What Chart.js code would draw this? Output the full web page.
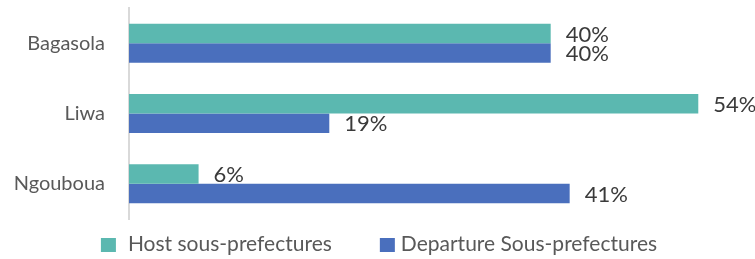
<!DOCTYPE html>
<html>
<head>
<meta charset="utf-8">
<script src="https://cdn.jsdelivr.net/npm/chart.js@4"></script>
<style>
  html, body { margin: 0; padding: 0; background: #ffffff; }
  #wrap { width: 755px; height: 259px; }
</style>
</head>
<body>
<div id="wrap"><canvas id="c" width="755" height="259"></canvas></div>
<script>
const categories = ["Bagasola", "Liwa", "Ngouboua"];
const hostValues = [40, 54, 6.6];
const departureValues = [40, 19, 41.8];
const seriesNames = ["Host sous-prefectures", "Departure Sous-prefectures"];

const FONT = "Lato, 'Open Sans', sans-serif";

const valueLabels = {
  id: 'valueLabels',
  afterDatasetsDraw(chart) {
    const ctx = chart.ctx;
    ctx.save();
    ctx.font = "22px " + FONT;
    ctx.fillStyle = "#3a3a3a";
    ctx.textAlign = "left";
    ctx.textBaseline = "middle";
    chart.data.datasets.forEach((ds, i) => {
      const meta = chart.getDatasetMeta(i);
      meta.data.forEach((bar, j) => {
        ctx.fillText(Math.floor(ds.data[j]) + "%", bar.x + 15, bar.y + 1);
      });
    });
    ctx.restore();
  }
};

const bottomLegend = {
  id: 'bottomLegend',
  afterDraw(chart) {
    const ctx = chart.ctx;
    ctx.save();
    ctx.font = "21px " + FONT;
    const box = 15, gapText = [12, 6], gapItem = 48;
    const ds = chart.data.datasets;
    const widths = ds.map(d => ctx.measureText(d.label).width);
    let total = 0;
    ds.forEach((d, i) => { total += box + gapText[i] + widths[i]; });
    total += gapItem * (ds.length - 1);
    let x = 379 - total / 2;
    const boxTop = 238, baseline = 251;
    ds.forEach((d, i) => {
      ctx.fillStyle = d.backgroundColor;
      ctx.fillRect(x, boxTop, box, 14);
      x += box + gapText[i];
      ctx.fillStyle = "#595959";
      ctx.textBaseline = "alphabetic";
      ctx.textAlign = "left";
      ctx.fillText(d.label, x, baseline);
      x += widths[i] + gapItem;
    });
    ctx.restore();
  }
};

new Chart(document.getElementById('c'), {
  type: 'bar',
  data: {
    labels: categories,
    datasets: [
      { label: seriesNames[0], data: hostValues, backgroundColor: "#5bb8b0", borderWidth: 0 },
      { label: seriesNames[1], data: departureValues, backgroundColor: "#4a6fbd", borderWidth: 0 }
    ]
  },
  options: {
    indexAxis: 'y',
    responsive: false,
    animation: false,
    devicePixelRatio: 1,
    layout: { padding: { left: 0, right: 4, top: 8, bottom: 40 } },
    datasets: { bar: { categoryPercentage: 0.555, barPercentage: 1.0 } },
    scales: {
      x: {
        display: false,
        min: 0,
        max: 59
      },
      y: {
        grid: { display: false, drawTicks: true, tickLength: 22 },
        border: { display: true, color: "#d9d9d9", width: 2 },
        ticks: {
          color: "#595959",
          font: { family: FONT, size: 20 },
          padding: 2
        },
        afterFit(scale) { scale.width = 129; scale.paddingTop = 0; scale.paddingBottom = 0; }
      }
    },
    plugins: {
      legend: { display: false },
      tooltip: { enabled: false }
    }
  },
  plugins: [valueLabels, bottomLegend]
});
</script>
</body>
</html>
